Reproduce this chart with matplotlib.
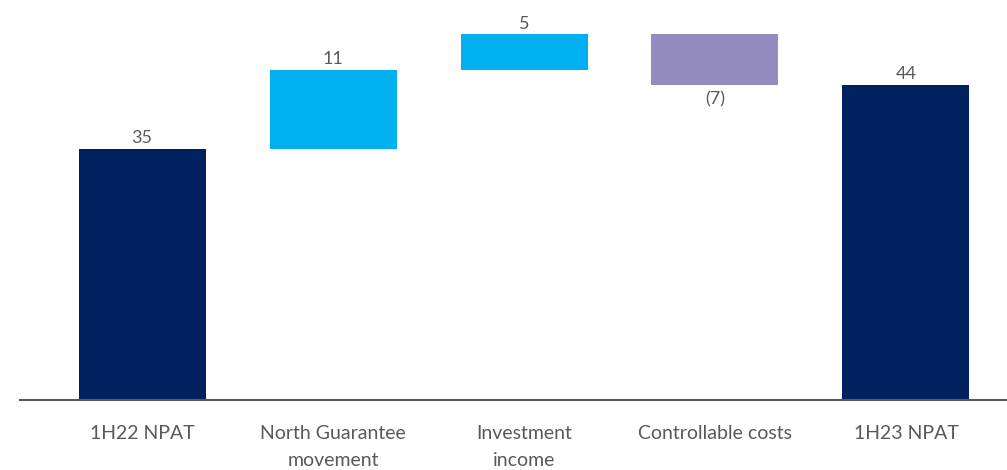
import numpy as np
import matplotlib.pyplot as plt

# NPAT bridge, 1H22 -> 1H23
categories = ["1H22 NPAT", "North Guarantee\nmovement", "Investment\nincome",
              "Controllable costs", "1H23 NPAT"]
values = [35, 11, 5, -7, 44]
kinds = ["total", "delta", "delta", "delta", "total"]
labels = ["35", "11", "5", "(7)", "44"]

navy = "#002060"
cyan = "#00B0F0"
purple = "#948BC0"
grey = "#595959"

plt.rcParams['font.family'] = ['Lato', 'DejaVu Sans']

fig = plt.figure(figsize=(10.07, 4.70), dpi=100)
ax = fig.add_axes([0.0199, 0.149, 0.9801, 0.851])

# bottoms and heights for the floating bars
bottoms, heights, colors = [], [], []
running = 0
for v, k in zip(values, kinds):
    if k == "total":
        bottoms.append(0)
        heights.append(v)
        colors.append(navy)
        running = v
    else:
        bottoms.append(running + min(v, 0))
        heights.append(abs(v))
        colors.append(cyan if v > 0 else purple)
        running += v

x = np.arange(len(categories))
ax.bar(x, heights, bottom=bottoms, width=0.665, color=colors, zorder=2)

for xi, b, h, v, lab in zip(x, bottoms, heights, values, labels):
    if v >= 0:
        ax.annotate(lab, (xi, b + h), xytext=(0, 2), textcoords="offset points",
                    ha="center", va="bottom", color=grey, fontsize=13)
    else:
        ax.annotate(lab, (xi, b), xytext=(0, -5), textcoords="offset points",
                    ha="center", va="top", color=grey, fontsize=13)

ax.set_xlim(-0.639, 4.529)
ax.set_ylim(0, 55.8)
ax.set_xticks(x)
ax.set_xticklabels(categories, color=grey, fontsize=14, linespacing=1.7)
ax.tick_params(axis="x", length=0, pad=18)
ax.set_yticks([])
for side in ["top", "right", "left"]:
    ax.spines[side].set_visible(False)
ax.spines["bottom"].set_color(grey)
ax.spines["bottom"].set_linewidth(1.5)

fig.savefig("out.png", dpi=100)
